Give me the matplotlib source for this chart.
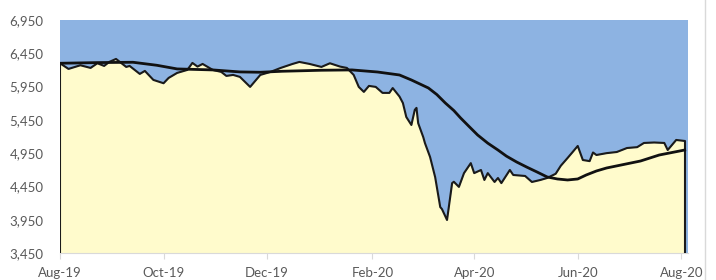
import matplotlib
matplotlib.use('Agg')
import matplotlib.pyplot as plt
import matplotlib.dates as mdates
from matplotlib.lines import Line2D
from matplotlib.ticker import FuncFormatter
import numpy as np
import pandas as pd

# price series
price_dates = [
  '2019-08-01', '2019-08-06', '2019-08-13', '2019-08-19', '2019-08-23', '2019-08-27',
  '2019-08-30', '2019-09-03', '2019-09-09', '2019-09-11', '2019-09-17', '2019-09-20',
  '2019-09-25', '2019-10-01', '2019-10-04', '2019-10-09', '2019-10-15', '2019-10-18',
  '2019-10-21', '2019-10-24', '2019-10-28', '2019-10-30', '2019-11-04', '2019-11-07',
  '2019-11-11', '2019-11-15', '2019-11-21', '2019-11-27', '2019-12-03', '2019-12-09',
  '2019-12-16', '2019-12-20', '2019-12-26', '2020-01-02', '2020-01-07', '2020-01-13',
  '2020-01-17', '2020-01-21', '2020-01-24', '2020-01-27', '2020-01-30', '2020-02-03',
  '2020-02-07', '2020-02-11', '2020-02-13', '2020-02-17', '2020-02-19', '2020-02-21',
  '2020-02-24', '2020-02-26', '2020-02-27', '2020-02-28', '2020-03-02', '2020-03-03',
  '2020-03-06', '2020-03-09', '2020-03-12', '2020-03-13', '2020-03-16', '2020-03-19',
  '2020-03-20', '2020-03-23', '2020-03-26', '2020-03-30', '2020-04-01', '2020-04-05',
  '2020-04-07', '2020-04-09', '2020-04-13', '2020-04-15', '2020-04-17', '2020-04-22',
  '2020-04-24', '2020-05-01', '2020-05-05', '2020-05-10', '2020-05-14', '2020-05-19',
  '2020-05-22', '2020-05-26', '2020-05-29', '2020-06-01', '2020-06-04', '2020-06-08',
  '2020-06-10', '2020-06-12', '2020-06-18', '2020-06-24', '2020-06-30', '2020-07-06',
  '2020-07-10', '2020-07-16', '2020-07-22', '2020-07-24', '2020-07-29', '2020-08-03',
]
price_values = [
  6300, 6215, 6270, 6230, 6300, 6260,
  6320, 6365, 6245, 6260, 6140, 6185,
  6050, 6000, 6080, 6155, 6200, 6305,
  6250, 6290, 6230, 6200, 6170, 6110,
  6125, 6095, 5945, 6125, 6170, 6230,
  6290, 6320, 6290, 6245, 6300, 6250,
  6230, 6125, 5945, 5870, 5960, 5945,
  5855, 5855, 5928, 5800, 5703, 5493,
  5373, 5600, 5630, 5400, 5190, 5100,
  4893, 4590, 4140, 4110, 3946, 4500,
  4520, 4443, 4650, 4800, 4650, 4697,
  4547, 4650, 4517, 4577, 4500, 4697,
  4622, 4607, 4517, 4547, 4577, 4640,
  4760, 4877, 4967, 5058, 4847, 4830,
  4960, 4922, 4950, 4967, 5027, 5040,
  5103, 5110, 5103, 4997, 5148, 5133,
]

# moving average
ma_dates = [
  '2019-08-01', '2019-08-23', '2019-09-13', '2019-09-27', '2019-10-09', '2019-10-30',
  '2019-11-15', '2019-11-27', '2019-12-10', '2020-01-02', '2020-01-20', '2020-02-04',
  '2020-02-17', '2020-02-24', '2020-03-05', '2020-03-10', '2020-03-15', '2020-03-20',
  '2020-03-24', '2020-03-29', '2020-04-03', '2020-04-09', '2020-04-15', '2020-04-20',
  '2020-04-26', '2020-05-02', '2020-05-08', '2020-05-14', '2020-05-20', '2020-05-26',
  '2020-06-01', '2020-06-06', '2020-06-12', '2020-06-18', '2020-07-08', '2020-07-19',
  '2020-08-03',
]
ma_values = [
  6300, 6310, 6315, 6270, 6215, 6200,
  6170, 6165, 6180, 6195, 6200, 6169,
  6124, 6049, 5929, 5830, 5703, 5590,
  5478, 5350, 5223, 5100, 4997, 4905,
  4817, 4740, 4667, 4592, 4562, 4547,
  4562, 4622, 4682, 4727, 4832, 4922,
  4997,
]

y_min, y_max = 3450, 6950

px = pd.to_datetime(price_dates)
mx = pd.to_datetime(ma_dates)

fig = plt.figure(figsize=(7.16, 2.8), dpi=100)
ax = fig.add_axes([0.0838, 0.0964, 0.8772, 0.8322])
ax.set_facecolor('#8db3e2')

ax.fill_between(px, price_values, y_min, color='#fffbcc', linewidth=0, zorder=1)
ax.plot(px, price_values, color='#1a1a1a', lw=1.5, zorder=3)
ax.vlines([px[0], px[-1]], y_min, [price_values[0], price_values[-1]],
          color='#1a1a1a', lw=1.5, zorder=3)
ax.plot(mx, ma_values, color='#111111', lw=2, zorder=4)

ax.set_ylim(y_min, y_max)
ax.set_xlim(pd.Timestamp('2019-08-01'), pd.Timestamp('2020-08-05'))
ax.set_yticks(np.arange(y_min, y_max + 1, 500))
ax.yaxis.set_major_formatter(FuncFormatter(lambda v, p: f'{v:,.0f}'))
ax.xaxis.set_major_locator(mdates.MonthLocator(bymonth=[2, 4, 6, 8, 10, 12]))
ax.xaxis.set_major_formatter(mdates.DateFormatter('%b-%y'))

for s in ['top', 'right', 'left']:
  ax.spines[s].set_visible(False)
ax.spines['bottom'].set_color('#d9d9d9')
ax.tick_params(axis='y', length=0, pad=12, labelsize=9.5, labelcolor='#595959')
ax.tick_params(axis='x', length=4, color='#d9d9d9', pad=6, labelsize=9.5, labelcolor='#595959')
for lab in ax.get_xticklabels() + ax.get_yticklabels():
  lab.set_family(['Lato', 'DejaVu Sans'])

fig.add_artist(Line2D([0.985, 0.985], [0, 1], color='#d9d9d9', lw=1))

fig.savefig('out.png', dpi=100)
